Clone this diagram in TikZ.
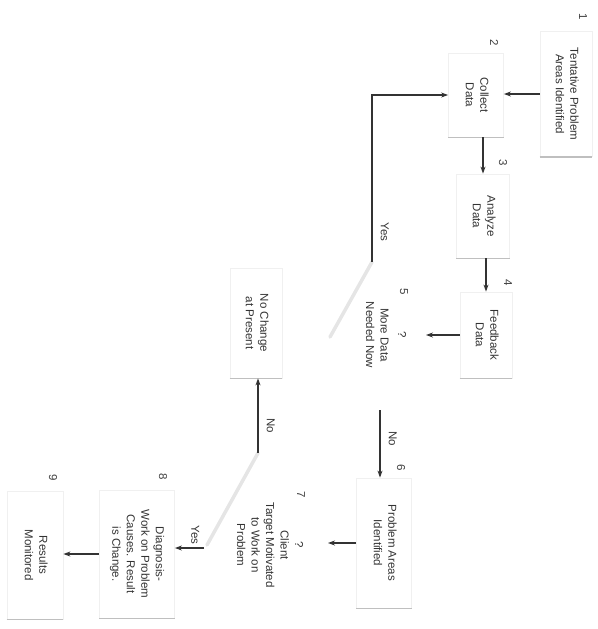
\documentclass[tikz,border=0pt]{standalone}
\usepackage{fontspec}
\setmainfont{Liberation Sans}
\usepackage{graphicx}
\usetikzlibrary{positioning}
\usetikzlibrary{arrows.meta}
\newcommand{\turned}[1]{\rotatebox{-90}{\begin{tabular}{@{}c@{}}#1\end{tabular}}}
\tikzset{
    card/.style = {rectangle, draw=black!6, line width=0.8pt, inner sep=0pt, text=black!80,
      append after command={(\tikzlastnode.south west) edge[draw=black!25, line width=1.6pt] (\tikzlastnode.south east)}},
    query/.style = {inner sep=0pt, text=black!80},
    num/.style = {inner sep=0pt, text=black!75},
    lbl/.style = {inner sep=1pt, text=black!80},
    flow/.style = {-{Stealth[length=7pt,width=5pt]}, line width=1.1pt, draw=black!80},
    faint/.style = {line width=3.5pt, draw=black!10, line cap=round}, % diamond edge
}
\begin{document}
\begin{tikzpicture}[x=1pt, y=-1pt, font=\fontsize{11.5}{14.5}\selectfont]
  \useasboundingbox (0,0) rectangle (597,629);
  % steps
  \node[card, minimum width=52pt, minimum height=125pt] (b1) at (566,94) {\turned{Tentative Problem\\Areas Identified}};
  \node[card, minimum width=55pt, minimum height=84pt] (b2) at (476,95) {\turned{Collect\\Data}};
  \node[card, minimum width=53pt, minimum height=84pt] (b3) at (483,216) {\turned{Analyze\\Data}};
  \node[card, minimum width=52pt, minimum height=86pt] (b4) at (486,335) {\turned{Feedback\\Data}};
  \node[card, minimum width=55pt, minimum height=130pt] (b6) at (384,543) {\turned{Problem Areas\\Identified}};
  \node[card, minimum width=52pt, minimum height=110pt] (nochg) at (256,323) {\turned{No Change\\at Present}};
  \node[card, minimum width=75pt, minimum height=128pt] (b8) at (137,554) {\turned{Diagnosis-\\Work on Problem\\Causes. Result\\is Change.}};
  \node[card, minimum width=56pt, minimum height=128pt] (b9) at (35,555) {\turned{Results\\Monitored}};
  % decisions
  \node[query] (d5) at (385,335) {\turned{?\\[3pt]More Data\\Needed Now}};
  \coordinate (d5t) at (372,262);
  \coordinate (d5l) at (330,337);
  \coordinate (d5r) at (426,335);
  \coordinate (d5b) at (380,410);
  \node[query] (d7) at (269,545) {\turned{?\\Client\\Target Motivated\\to Work on\\Problem}};
  \coordinate (d7t) at (258,453);
  \coordinate (d7l) at (207,545);
  \coordinate (d7r) at (328,543);
  \coordinate (d7y) at (204,548);
  \draw[faint] (d5t) -- (d5l);
  \draw[faint] (d7t) -- (d7l);
  % numbers
  \node[num] (n1) at (582,17) {\turned{1}};
  \node[num] (n2) at (493,43) {\turned{2}};
  \node[num] (n3) at (502,163) {\turned{3}};
  \node[num] (n4) at (507,283) {\turned{4}};
  \node[num] (n5) at (403,292) {\turned{5}};
  \node[num] (n6) at (400,468) {\turned{6}};
  \node[num] (n7) at (300,495) {\turned{7}};
  \node[num] (n8) at (162,477) {\turned{8}};
  \node[num] (n9) at (52,478) {\turned{9}};
  % connectors
  \draw[flow] (b1.west) -- (b1.west -| b2.east);
  \draw[flow] (b3.north |- b2.south) -- (b3.north);
  \draw[flow] (b4.north |- b3.south) -- (b4.north);
  \draw[flow] (b4.west) -- (d5r);
  \draw[flow] (d5t) |- node[lbl, pos=0.09, right=3pt] {\turned{Yes}} (b2.west);
  \draw[flow] (d5b) -- node[lbl, pos=0.42, right=3pt] {\turned{No}} (d5b |- b6.north);
  \draw[flow] (b6.west) -- (b6.west -| d7r);
  \draw[flow] (d7t) -- node[lbl, pos=0.37, right=3pt] {\turned{No}} (d7t |- nochg.south);
  \draw[flow] (d7y) -- node[lbl, pos=0.33, above=2pt] {\turned{Yes}} (d7y -| b8.east);
  \draw[flow] (b8.west) -- (b8.west -| b9.east);
\end{tikzpicture}
\end{document}
